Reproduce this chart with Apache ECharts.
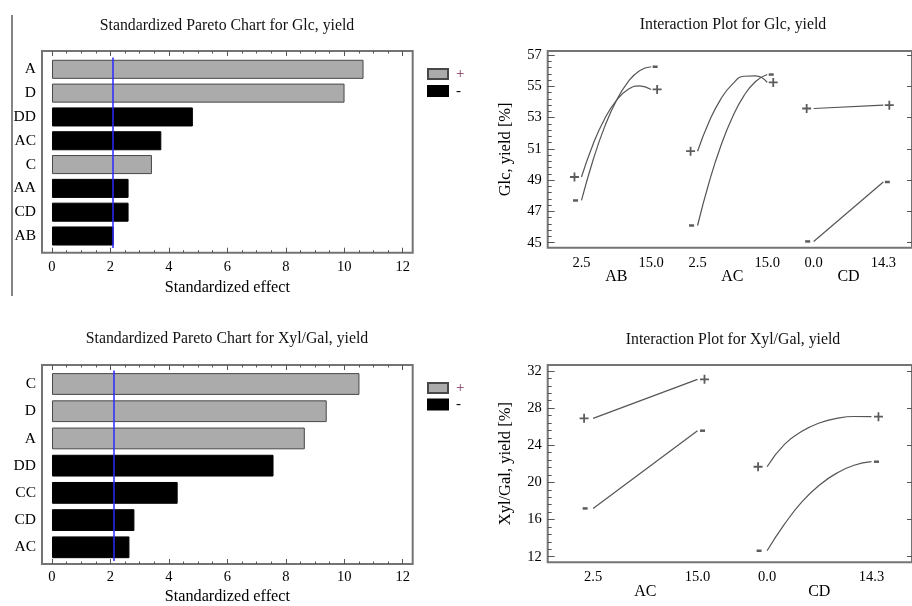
<!DOCTYPE html>
<html><head><meta charset="utf-8">
<script src="https://cdn.jsdelivr.net/npm/echarts@6/dist/echarts.min.js"></script>
<style>html,body{margin:0;padding:0;background:#fff}#c{width:912px;height:606px}</style>
</head><body><div id="c"></div>
<script>
// ---------- Data: Pareto charts ----------
const glcFactors = ['A', 'D', 'DD', 'AC', 'C', 'AA', 'CD', 'AB'];
const glcEffects = [10.66, 10.01, 4.82, 3.74, 3.42, 2.62, 2.62, 2.11];
const glcSigns   = ['+', '+', '-', '-', '+', '-', '-', '-'];
const glcCritical = 2.07;

const xylFactors = ['C', 'D', 'A', 'DD', 'CC', 'CD', 'AC'];
const xylEffects = [10.52, 9.40, 8.65, 7.58, 4.30, 2.82, 2.65];
const xylSigns   = ['+', '+', '+', '-', '-', '-', '-'];
const xylCritical = 2.11;

const effectTicks = [0, 2, 4, 6, 8, 10, 12];
const effectMinorTicks = [0, 0.5, 1, 1.5, 2, 2.5, 3, 3.5, 4, 4.5, 5, 5.5, 6, 6.5, 7, 7.5, 8, 8.5, 9, 9.5, 10, 10.5, 11, 11.5, 12];
const legendNames = ['+', '-'];

// ---------- Data: Interaction plots ----------
const glcGroups = ['AB', 'AC', 'CD'];
const glcLevelLabels = ['2.5', '15.0', '2.5', '15.0', '0.0', '14.3'];
const glcYTicks = [45, 47, 49, 51, 53, 55, 57];
// values, from low level to high level
const glcABplus  = [49.2, 51.3, 52.93, 54.09, 54.79, 55.03, 54.8];
const glcABminus = [47.7, 50.29, 52.42, 54.08, 55.27, 56.0, 56.25];
const glcACplus  = [50.85, 52.75, 54.18, 55.14, 55.64, 55.67, 55.25];
const glcACminus = [46.1, 48.88, 51.18, 53.02, 54.4, 55.31, 55.75];
const glcCDplus  = [53.58, 53.79];
const glcCDminus = [45.08, 48.88];

const xylGroups = ['AC', 'CD'];
const xylLevelLabels = ['2.5', '15.0', '0.0', '14.3'];
const xylYTicks = [12, 16, 20, 24, 28, 32];
const xylACplus  = [26.9, 31.1];
const xylACminus = [17.2, 25.57];
const xylCDplus  = [21.69, 24.1, 25.5, 26.4, 26.9, 27.1, 27.08];
const xylCDminus = [12.64, 15.5, 17.9, 19.7, 21.0, 21.85, 22.23];

// ---------- Styles ----------
const FONT = 'Liberation Serif';
const TXT = '#000';
const FRAME = '#747474';
const GREY = '#ababab';
const SPAN = 0.6; // position of the high level inside a group

const grids = [], xAxes = [], yAxes = [], series = [], titles = [], legends = [];

function addTitle(text, cx, top) {
  titles.push({ text, left: cx, top, textAlign: 'center', padding: 0,
    textStyle: { fontFamily: FONT, fontSize: 15.8, fontWeight: 'normal', color: '#111' } });
}

function tickAxis(gi, pos, min, max, values, len, extra) {
  return Object.assign({
    gridIndex: gi, type: 'value', position: pos, min, max,
    axisLine: { show: false, onZero: false }, splitLine: { show: false },
    axisTick: { show: true, inside: true, length: len, customValues: values, lineStyle: { color: '#555', width: 1 } },
    axisLabel: { show: false }
  }, extra || {});
}

function pareto(cfg) {
  const xmin = -0.342, xmax = 12.342;
  const g0 = grids.length;
  grids.push({ left: 42, top: cfg.frameTop, width: 370.7, height: cfg.frameH, show: true,
    borderColor: FRAME, borderWidth: 2, backgroundColor: 'transparent' });
  xAxes.push(tickAxis(g0, 'bottom', xmin, xmax, effectTicks, 5, {
    axisLabel: { show: true, customValues: effectTicks, margin: cfg.labelMargin,
      fontFamily: FONT, fontSize: 14.5, color: TXT },
    name: 'Standardized effect', nameLocation: 'middle', nameGap: cfg.nameGap,
    nameTextStyle: { fontFamily: FONT, fontSize: 16.2, color: TXT }
  }));
  xAxes.push(tickAxis(g0, 'bottom', xmin, xmax, effectMinorTicks, 2.5));
  xAxes.push(tickAxis(g0, 'top', xmin, xmax, effectTicks, 5));
  xAxes.push(tickAxis(g0, 'top', xmin, xmax, effectMinorTicks, 2.5));
  yAxes.push({ gridIndex: g0, type: 'value', show: false, axisLine: { onZero: false } });

  const g1 = grids.length;
  grids.push({ left: 42, top: cfg.barTop, width: 370.7, height: cfg.barH });
  const xi = xAxes.length, yi = yAxes.length;
  xAxes.push({ gridIndex: g1, type: 'value', min: xmin, max: xmax, show: false, axisLine: { onZero: false } });
  yAxes.push({ gridIndex: g1, type: 'category', data: cfg.factors, inverse: true,
    axisLine: { show: false, onZero: false }, axisTick: { show: false }, splitLine: { show: false },
    axisLabel: { margin: 6, fontFamily: FONT, fontSize: 15.5, color: TXT } });

  series.push({ name: '+', type: 'bar', xAxisIndex: xi, yAxisIndex: yi,
    data: cfg.effects.map((v, i) => cfg.signs[i] === '+' ? v : null),
    barGap: '-100%', barCategoryGap: '20%',
    itemStyle: { color: GREY, borderColor: '#484848', borderWidth: 1 },
    markLine: { silent: true, symbol: 'none', label: { show: false },
      lineStyle: { color: '#2a2aff', width: 1.5, type: 'solid' },
      data: [{ xAxis: cfg.critical }] }
  });
  series.push({ name: '-', type: 'bar', xAxisIndex: xi, yAxisIndex: yi,
    data: cfg.effects.map((v, i) => cfg.signs[i] === '-' ? v : null),
    barGap: '-100%', barCategoryGap: '20%',
    itemStyle: { color: '#000', borderColor: '#000', borderWidth: 1 } });

  legends.push({ left: 427, top: cfg.legendTop, orient: 'vertical', icon: 'rect', padding: 0,
    itemWidth: 20, itemHeight: 10, itemGap: cfg.legendGap, selectedMode: false,
    textStyle: { fontFamily: FONT, fontSize: 15, padding: [0, 0, 0, 3] },
    data: [{ name: legendNames[0], textStyle: { color: '#7a2f55' } },
           { name: legendNames[1], textStyle: { color: '#000' } }] });
}

function levelLookup(positions, labels) {
  return function (v) {
    for (let i = 0; i < positions.length; i++) if (Math.abs(positions[i] - v) < 1e-6) return labels[i];
    return '';
  };
}

function curveData(vals, g) {
  const step = SPAN / (vals.length - 1);
  return vals.map((v, i) => [g + i * step, v]);
}

function interaction(cfg) {
  const gi = grids.length;
  grids.push({ left: 547.7, top: cfg.top, width: 366.3, height: cfg.height, show: true,
    borderColor: FRAME, borderWidth: 2, backgroundColor: 'transparent' });
  const levelPos = [];
  cfg.groups.forEach((g, k) => { levelPos.push(k, k + SPAN); });
  const groupPos = cfg.groups.map((g, k) => k + SPAN / 2);
  const xi = xAxes.length;
  xAxes.push({ gridIndex: gi, type: 'value', position: 'bottom', min: cfg.xmin, max: cfg.xmax,
    axisLine: { show: false, onZero: false }, axisTick: { show: false }, splitLine: { show: false },
    axisLabel: { customValues: levelPos, formatter: levelLookup(levelPos, cfg.levelLabels),
      margin: cfg.labelMargin, fontFamily: FONT, fontSize: 14.5, color: TXT } });
  xAxes.push({ gridIndex: gi, type: 'value', position: 'bottom', offset: cfg.groupOffset,
    min: cfg.xmin, max: cfg.xmax,
    axisLine: { show: false, onZero: false }, axisTick: { show: false }, splitLine: { show: false },
    axisLabel: { customValues: groupPos, formatter: levelLookup(groupPos, cfg.groups),
      margin: cfg.labelMargin, fontFamily: FONT, fontSize: 16, color: TXT } });
  const yi = yAxes.length;
  yAxes.push(tickAxis(gi, 'left', cfg.ymin, cfg.ymax, cfg.yTicks, 7, {
    axisLabel: { show: true, customValues: cfg.yTicks, margin: 6, fontFamily: FONT, fontSize: 14.5, color: TXT },
    name: cfg.yName, nameLocation: 'middle', nameGap: cfg.nameGap, nameRotate: 90,
    nameTextStyle: { fontFamily: FONT, fontSize: 16.5, color: TXT } }));
  const minors = [];
  for (let v = cfg.yTicks[0]; v <= cfg.yTicks[cfg.yTicks.length - 1] + 1e-9; v += cfg.minorStep) minors.push(+v.toFixed(4));
  yAxes.push(tickAxis(gi, 'left', cfg.ymin, cfg.ymax, minors, 4));
  yAxes.push(tickAxis(gi, 'right', cfg.ymin, cfg.ymax, cfg.yTicks, 5));

  const PLUS = 'path://M4,0H6V4H10V6H6V10H4V6H0V4H4Z';
  const markers = [];
  cfg.curves.forEach(c => {
    const d = curveData(c.vals, c.g);
    series.push({ type: 'line', xAxisIndex: xi, yAxisIndex: yi, data: d, smooth: 0.5,
      showSymbol: false, silent: true, lineStyle: { color: '#555', width: 1.2 } });
    const plus = c.sign === '+';
    const first = d[0], last = d[d.length - 1];
    markers.push({ value: first, symbol: plus ? PLUS : 'rect', symbolSize: plus ? 9 : [5, 2.5],
      symbolOffset: [plus ? cfg.offLo[0] : cfg.offLo[1], 0] });
    markers.push({ value: last, symbol: plus ? PLUS : 'rect', symbolSize: plus ? 9 : [5, 2.5],
      symbolOffset: [plus ? cfg.offHi[0] : cfg.offHi[1], 0] });
  });
  series.push({ type: 'scatter', xAxisIndex: xi, yAxisIndex: yi, data: markers, silent: true,
    itemStyle: { color: '#333' } });
}

// ---------- Build ----------
addTitle('Standardized Pareto Chart for Glc, yield', 227, 17.5);
addTitle('Interaction Plot for Glc, yield', 733, 17);
addTitle('Standardized Pareto Chart for Xyl/Gal, yield', 227, 331);
addTitle('Interaction Plot for Xyl/Gal, yield', 733, 331.4);

pareto({ frameTop: 51, frameH: 201.7, barTop: 57.4, barH: 190.5, factors: glcFactors,
  effects: glcEffects, signs: glcSigns, critical: glcCritical, legendTop: 66.5, legendGap: 2,
  labelMargin: 7, nameGap: 27 });
pareto({ frameTop: 365, frameH: 201, barTop: 370.4, barH: 190.5, factors: xylFactors,
  effects: xylEffects, signs: xylSigns, critical: xylCritical, legendTop: 380.5, legendGap: 1.5,
  labelMargin: 6, nameGap: 25 });

interaction({ top: 51, height: 196.7, xmin: -0.291, xmax: 2.847, ymin: 44.68, ymax: 57.256,
  groups: glcGroups, levelLabels: glcLevelLabels, yTicks: glcYTicks, minorStep: 0.4,
  yName: 'Glc, yield [%]', nameGap: 34, labelMargin: 8, groupOffset: 13.3,
  offLo: [-7, -6], offHi: [6, 4],
  curves: [
    { g: 0, sign: '+', vals: glcABplus }, { g: 0, sign: '-', vals: glcABminus },
    { g: 1, sign: '+', vals: glcACplus }, { g: 1, sign: '-', vals: glcACminus },
    { g: 2, sign: '+', vals: glcCDplus }, { g: 2, sign: '-', vals: glcCDminus }
  ] });
interaction({ top: 365, height: 197.3, xmin: -0.261, xmax: 1.833, ymin: 11.397, ymax: 32.646,
  groups: xylGroups, levelLabels: xylLevelLabels, yTicks: xylYTicks, minorStep: 0.8,
  yName: 'Xyl/Gal, yield [%]', nameGap: 34, labelMargin: 7.4, groupOffset: 14.3,
  offLo: [-9, -8], offHi: [7, 5],
  curves: [
    { g: 0, sign: '+', vals: xylACplus }, { g: 0, sign: '-', vals: xylACminus },
    { g: 1, sign: '+', vals: xylCDplus }, { g: 1, sign: '-', vals: xylCDminus }
  ] });

const chart = echarts.init(document.getElementById('c'), null, { renderer: 'canvas' });
chart.setOption({
  animation: false,
  backgroundColor: '#fff',
  title: titles,
  legend: legends,
  grid: grids,
  xAxis: xAxes,
  yAxis: yAxes,
  series: series,
  graphic: [{ type: 'line', shape: { x1: 12, y1: 15, x2: 12, y2: 296 },
    style: { stroke: '#333', lineWidth: 1.2 }, silent: true }]
});
</script>
</body></html>
